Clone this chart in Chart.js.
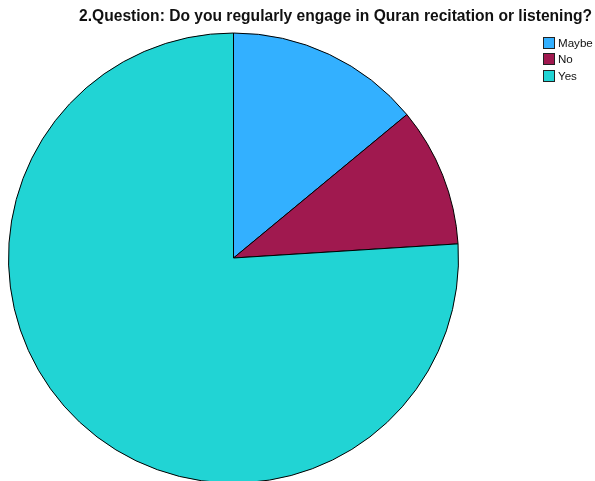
<!DOCTYPE html>
<html>
<head>
<meta charset="utf-8">
<script src="https://cdn.jsdelivr.net/npm/chart.js@4/dist/chart.umd.min.js"></script>
<style>
  html, body { margin: 0; padding: 0; background: #fff; overflow: hidden; }
  #wrap { position: relative; width: 595px; height: 481px; overflow: hidden; }
  #title {
    position: absolute; right: 3px; top: 7px; white-space: nowrap;
    font: bold 15.6px "Liberation Sans", Arial, sans-serif; color: #111;
  }
  #legend { position: absolute; left: 543px; top: 36.5px; font: 11.6px "Liberation Sans", Arial, sans-serif; color: #111; }
  .item { height: 16.7px; display: flex; align-items: flex-start; }
  .box { width: 12px; height: 12px; border: 1px solid #222; margin-right: 3px; box-sizing: border-box; }
  .lbl { line-height: 12px; }
  canvas { position: absolute; left: 0; top: 0; }
</style>
</head>
<body>
<div id="wrap">
  <canvas id="pie" width="595" height="490"></canvas>
  <div id="title">2.Question: Do you regularly engage in Quran recitation or listening?</div>
  <div id="legend"></div>
</div>
<script>
// answers and their share (%)
var categories = ["Maybe", "No", "Yes"];
var shares = [14, 10, 76];
var sliceColors = ["#33b0ff", "#a0194f", "#21d4d4"];

var legendDiv = document.getElementById("legend");
categories.forEach(function (name, i) {
    var row = document.createElement("div");
    row.className = "item";
    row.innerHTML = '<span class="box" style="background:' + sliceColors[i] + '"></span><span class="lbl">' + name + '</span>';
    legendDiv.appendChild(row);
});

new Chart(document.getElementById("pie"), {
    type: "pie",
    data: {
        labels: categories,
        datasets: [{
            data: shares,
            backgroundColor: sliceColors,
            borderColor: "#000",
            borderWidth: 1,
            radius: 225
        }]
    },
    options: {
        responsive: false,
        devicePixelRatio: 1,
        animation: false,
        events: [],
        layout: { padding: { left: 8, right: 136, top: 33, bottom: 7 } },
        plugins: {
            legend: { display: false },
            title: { display: false },
            tooltip: { enabled: false }
        }
    }
});
</script>
</body>
</html>
